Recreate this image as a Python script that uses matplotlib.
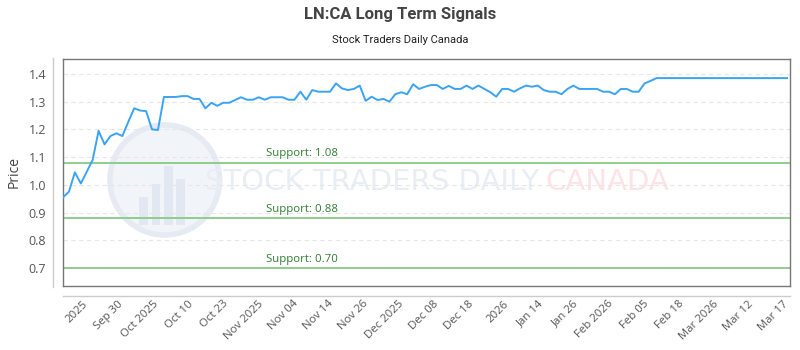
import matplotlib
matplotlib.use("Agg")
import matplotlib.pyplot as plt
from matplotlib.patches import Ellipse, Rectangle
from matplotlib.lines import Line2D
from matplotlib.transforms import ScaledTranslation

title = "LN:CA Long Term Signals"
subtitle = "Stock Traders Daily Canada"

prices = [
    0.955, 0.975, 1.045, 1.005, 1.047, 1.09, 1.195, 1.146, 1.176, 1.186,
    1.176, 1.227, 1.276, 1.268, 1.266, 1.20, 1.198, 1.317, 1.317, 1.317,
    1.32, 1.32, 1.31, 1.31, 1.276, 1.296, 1.285, 1.296, 1.296, 1.306,
    1.316, 1.307, 1.307, 1.316, 1.307, 1.316, 1.316, 1.316, 1.307, 1.307,
    1.336, 1.307, 1.342, 1.336, 1.336, 1.336, 1.366, 1.348, 1.342, 1.346,
    1.358, 1.303, 1.318, 1.306, 1.31, 1.30, 1.327, 1.334, 1.327, 1.363,
    1.346, 1.354, 1.36, 1.36, 1.346, 1.357, 1.346, 1.346, 1.358, 1.346,
    1.358, 1.346, 1.334, 1.318, 1.346, 1.346, 1.336, 1.348, 1.358, 1.354,
    1.358, 1.342, 1.336, 1.336, 1.327, 1.346, 1.358, 1.346, 1.346, 1.346,
    1.346, 1.336, 1.336, 1.327, 1.346, 1.346, 1.336, 1.336, 1.366, 1.375,
    1.385, 1.385, 1.385, 1.385, 1.385, 1.385, 1.385, 1.385, 1.385, 1.385,
    1.385, 1.385, 1.385, 1.385, 1.385, 1.385, 1.385, 1.385, 1.385, 1.385,
    1.385, 1.385, 1.385,
]

tick_labels = ["2025", "Sep 30", "Oct 2025", "Oct 10", "Oct 23", "Nov 2025",
               "Nov 04", "Nov 14", "Nov 26", "Dec 2025", "Dec 08", "Dec 18",
               "2026", "Jan 14", "Jan 26", "Feb 2026", "Feb 05", "Feb 18",
               "Mar 2026", "Mar 12", "Mar 17"]
tick_positions = [4.0, 9.9, 15.8, 21.7, 27.6, 33.5, 39.4, 45.3, 51.2, 57.1,
                  63.0, 68.9, 74.8, 80.7, 86.6, 92.5, 98.4, 104.3, 110.2,
                  116.1, 122.0]

support_levels = [1.08, 0.88, 0.70]
support_labels = ["Support: 1.08", "Support: 0.88", "Support: 0.70"]

y_ticks = [0.7, 0.8, 0.9, 1.0, 1.1, 1.2, 1.3, 1.4]

plt.rcParams['font.family'] = ['Open Sans', 'DejaVu Sans']

fig = plt.figure(figsize=(8, 3.5), dpi=100)
ax = fig.add_axes([63/800, 1-286/350, 727/800, 227/350])

x = list(range(len(prices)))

# watermark
ax.add_patch(Ellipse((0.14, 0.467), 0.151, 0.485, transform=ax.transAxes,
                     facecolor='#f1f4f9', edgecolor='#e6ebf3', lw=4,
                     zorder=0))
for bx, bh in [(0.105, 0.12), (0.122, 0.18), (0.139, 0.26), (0.156, 0.2)]:
    ax.add_patch(Rectangle((bx, 0.27), 0.012, bh, transform=ax.transAxes,
                           facecolor='#e2e8f1', edgecolor='none', zorder=0))
ax.text(0.195, 0.46, "STOCK TRADERS DAILY", transform=ax.transAxes,
        fontsize=21, color='#e9edf4', ha='left', va='center',
        family='DejaVu Sans', zorder=0)
ax.text(0.663, 0.46, "CANADA", transform=ax.transAxes,
        fontsize=21, color='#fde3e6', ha='left', va='center',
        family='DejaVu Sans', zorder=0)

for lv, lab in zip(support_levels, support_labels):
    ax.axhline(lv, color='#8fcc8f', lw=1.4, zorder=2)
    ax.text(40.2, lv + 0.012, lab, color='#2e7d32', fontsize=8.2,
            ha='center', va='bottom', zorder=3)

ax.plot(x, prices, color='#3aa3f2', lw=1.4, zorder=4)

ax.set_xlim(0, len(prices) - 1 + 0.5)
ax.set_ylim(0.635, 1.454)
ax.set_yticks(y_ticks)
ax.set_yticklabels([f"{v:.1f}" for v in y_ticks])
ax.yaxis.grid(True, color='#e6e6e6', linestyle=(0, (4, 3)), lw=0.8)
ax.set_axisbelow(True)

ax.set_xticks(tick_positions)
ax.set_xticklabels(tick_labels, rotation=45, ha='right',
                   rotation_mode='anchor')
ax.tick_params(axis='x', length=0, pad=9, labelsize=8.2, labelcolor='#555555')
ax.tick_params(axis='y', length=0, pad=12, labelsize=9, labelcolor='#555555')
shift = ScaledTranslation(-4/100, 0, fig.dpi_scale_trans)
for lbl in ax.get_xticklabels():
    lbl.set_transform(lbl.get_transform() + shift)

for s in ax.spines.values():
    s.set_color('#777777')
    s.set_linewidth(1.0)

ax.set_ylabel("Price", fontsize=10, color='#444444', labelpad=5)

# offset axis lines
fig.add_artist(Line2D([53/800, 53/800], [1-287/350, 1-58/350],
                      color='#cccccc', lw=1.0))
fig.add_artist(Line2D([63/800, 790/800], [1-296/350, 1-296/350],
                      color='#cccccc', lw=1.0))

fig.text(0.5, 1-15/350, title, ha='center', va='center', fontsize=12,
         fontweight='bold', color='#444444', family=['Roboto', 'DejaVu Sans'])
fig.text(0.5, 1-40/350, subtitle, ha='center', va='center', fontsize=8,
         color='#222222', family=['Roboto', 'DejaVu Sans'])

fig.savefig("out.png", dpi=100)
